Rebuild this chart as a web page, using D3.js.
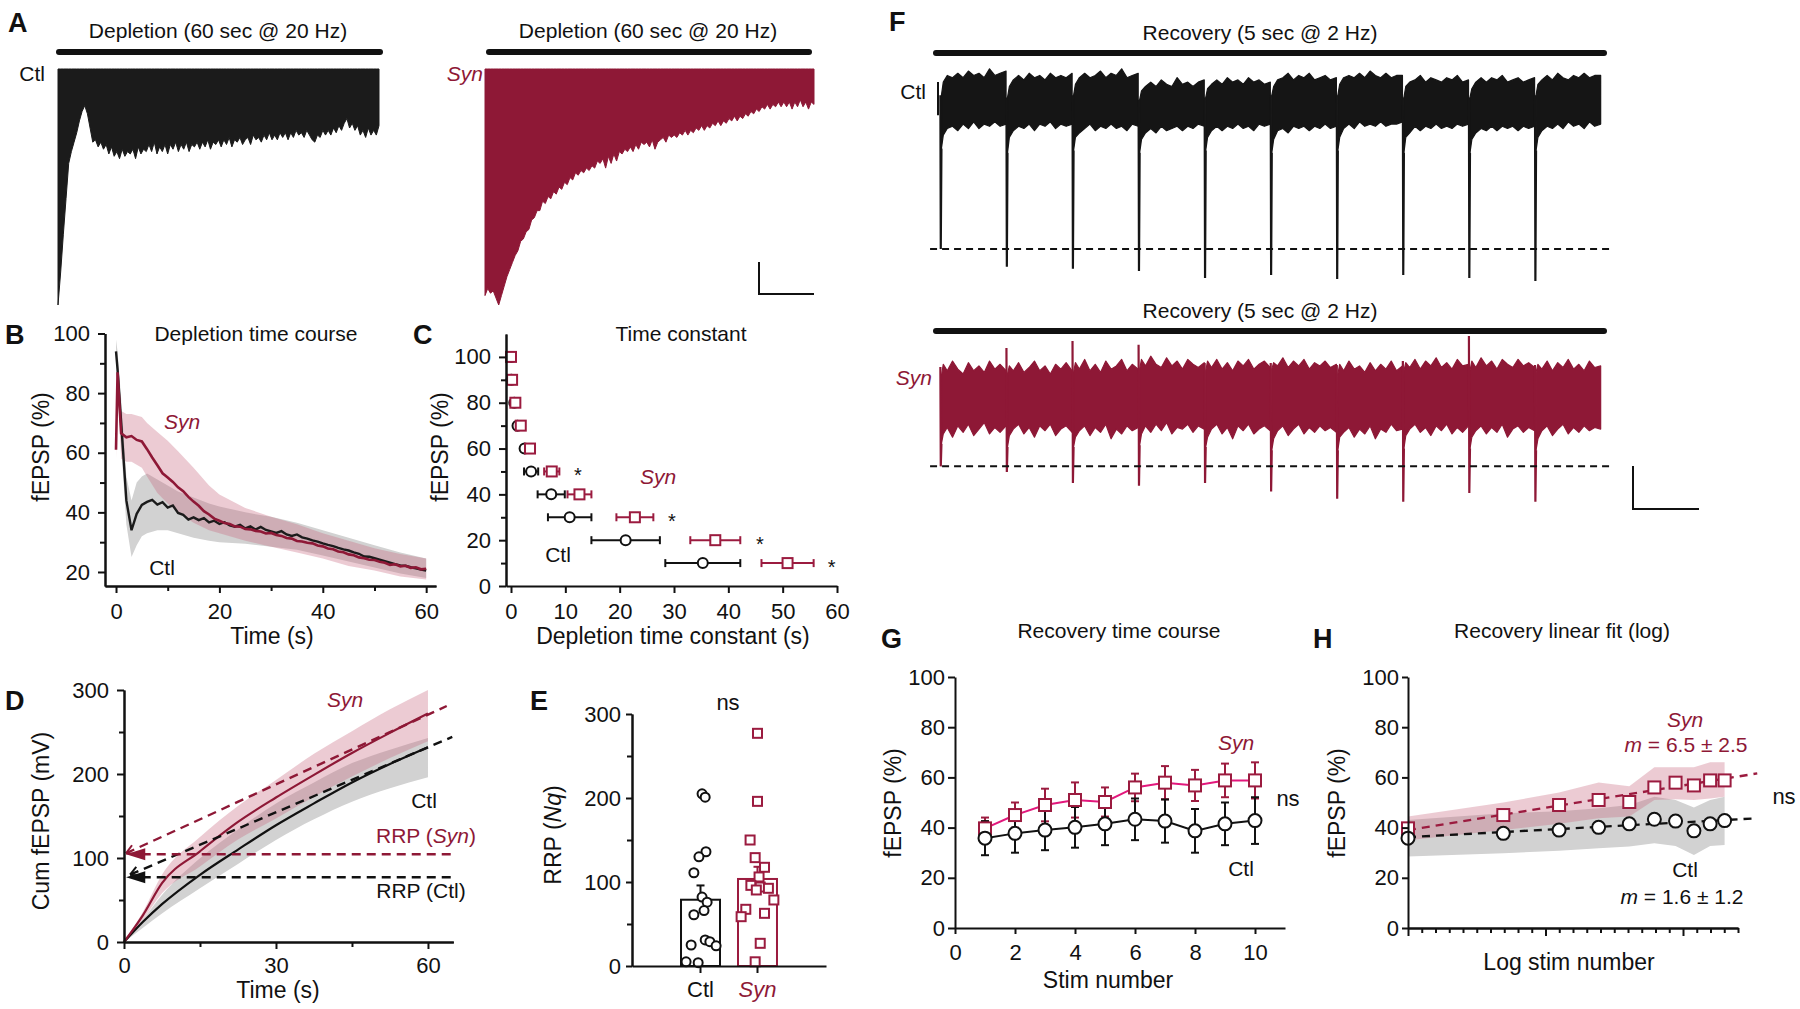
<!DOCTYPE html>
<html>
<head>
<meta charset="utf-8">
<script src="https://cdn.jsdelivr.net/npm/d3@7"></script>
<style>
  body { margin: 0; background: #fff; }
  svg text { font-family: "Liberation Sans", Arial, sans-serif; }
</style>
</head>
<body>
<div id="chart"></div>
<script>
// ---------------- data ----------------

// A: lower envelope of the 20 Hz depletion trains, fraction of max depth, one value per 0.5 s (0..60 s)
let aCtlDepth = [1.00,0.86,0.70,0.55,0.40,0.35,0.31,0.27,0.22,0.18,0.155,0.19,0.25,0.31,0.30,0.33,0.31,0.34,0.32,0.36,
  0.33,0.37,0.35,0.38,0.34,0.37,0.35,0.36,0.34,0.38,0.33,0.36,0.34,0.35,0.32,0.35,0.31,0.36,0.33,0.35,
  0.32,0.36,0.32,0.34,0.31,0.35,0.32,0.34,0.31,0.35,0.32,0.33,0.31,0.34,0.31,0.33,0.30,0.34,0.31,0.32,
  0.30,0.33,0.30,0.32,0.29,0.33,0.30,0.31,0.29,0.32,0.30,0.29,0.32,0.28,0.30,0.29,0.31,0.28,0.30,0.27,
  0.30,0.28,0.30,0.27,0.29,0.27,0.30,0.27,0.29,0.26,0.28,0.27,0.29,0.26,0.28,0.30,0.31,0.28,0.29,0.26,
  0.28,0.26,0.28,0.25,0.27,0.24,0.26,0.23,0.21,0.25,0.23,0.26,0.24,0.28,0.26,0.29,0.25,0.28,0.26,0.28,0.24];
let aSynDepth = [0.96,0.93,0.95,0.94,0.97,1.00,0.96,0.92,0.88,0.85,0.82,0.79,0.77,0.73,0.72,0.69,0.68,0.64,0.63,0.60,
  0.60,0.56,0.57,0.54,0.55,0.52,0.53,0.50,0.51,0.48,0.49,0.46,0.47,0.44,0.45,0.43,0.44,0.42,0.43,0.41,
  0.42,0.39,0.40,0.38,0.42,0.37,0.40,0.36,0.39,0.35,0.36,0.34,0.35,0.33,0.35,0.32,0.34,0.31,0.32,0.31,
  0.33,0.30,0.34,0.31,0.30,0.29,0.31,0.28,0.29,0.28,0.29,0.27,0.28,0.26,0.28,0.26,0.27,0.25,0.26,0.24,
  0.26,0.24,0.25,0.23,0.24,0.22,0.24,0.22,0.23,0.21,0.22,0.20,0.22,0.20,0.21,0.19,0.20,0.18,0.19,0.17,
  0.18,0.16,0.17,0.15,0.17,0.15,0.16,0.14,0.16,0.14,0.16,0.14,0.17,0.14,0.16,0.13,0.16,0.14,0.17,0.14,0.15];

// B: depletion time course (fEPSP %)
let bTime = [0,0.3,1,2,3,4,5,6,7,8,9,10,11,12,13,14,15,16,17,18,19,20,21,22,23,24,25,26,27,28,29,30,
  31,32,33,34,35,36,37,38,39,40,41,42,43,44,45,46,47,48,49,50,51,52,53,54,55,56,57,58,59,60];
let bCtl = [94,88,70,44,34,39.5,42.5,43.5,44.2,42.6,43.4,41.6,42.3,39.8,39.2,37.6,38.3,37.4,38.1,36.6,37.2,36.1,
  36.7,35.6,35.2,35.8,34.6,35.3,34.2,35.1,34.1,33.6,33.1,33.7,32.6,32.1,32.6,31.6,31.2,30.6,30.2,29.6,
  29.1,28.7,28.1,27.6,27.2,26.6,26.1,25.2,25.1,24.6,24.1,23.6,23.1,22.6,22.2,22.1,21.6,21.2,20.8,20.5];
let bSyn = [61,87,66.5,65.2,65.6,64.3,63.8,61.2,58.4,55.8,53.1,51.7,50.2,48.4,47.1,45.2,43.6,42.2,40.4,39.3,37.9,
  37.2,36.4,36.1,35.3,35.2,34.4,34.3,33.8,33.6,32.9,33.1,32.4,32.1,31.4,31.2,30.4,30.2,29.8,29.6,28.9,
  28.6,27.9,27.6,26.9,26.6,25.9,25.6,24.9,24.6,24.1,24.0,23.4,23.1,22.4,22.6,21.9,22.1,21.4,21.6,20.9,21.1];
let bBandTime = [0,0.3,1,2,3,4,5,6,8,10,12,15,18,20,25,30,35,40,45,50,55,60];
let bSynHi = [63,91,74,73,73,72.5,72,70,67,64,60.5,55,49,46,41.5,38.5,36,33,30.5,28,26,24.5];
let bSynLo = [58,82,58,57,57,56,55,52,46.5,43,40,36.5,34,33,30.5,28.5,26.5,24.5,22,20.5,18.5,17.5];
let bCtlHi = [98,94,78,52,44,50,52,53,51,49,47,45,43,42,40,38.5,36.5,34,31.5,29,26.5,24.5];
let bCtlLo = [90,82,62,36,25,29,32,33,34,34,33,31.5,30.5,30,29.5,28.5,27.5,25.5,23.5,21.5,19.5,18];

// C: depletion time constant (s) at each fEPSP level
let cLevel = [100,90,80,70,60,50,40,30,20,10];
let cCtl = [0,0.1,0.6,1.2,2.5,3.7,7.4,10.8,21.1,35.3];
let cCtlErr = [0,0.2,0.3,0.4,0.5,1.3,2.5,4.0,6.3,6.9];
let cSyn = [0,0.2,0.8,1.8,3.5,7.5,12.6,22.8,37.6,50.9];
let cSynErr = [0,0.5,0.6,0.7,0.8,1.4,2.2,3.4,4.6,4.8];
let cStarX = [12.3,29.6,45.8,59.0];
let cStarY = [50,30,20,10];

// D: cumulative fEPSP (mV)
let dTime = [0,3.75,7.5,15,22.5,30,37.5,45,52.5,60];
let dCtl = [0,24,45,80,110,139,165,190,212,232];
let dCtlHi = [0,27,56,99.6,134,165,190,213,229,243];
let dCtlLo = [0,17,34,64,93,121.5,146,167,183,196];
let dSyn = [0,32,70,108,143,172,199,225,249,272];
let dSynHi = [0,36,80,125,162,193,224,251,277,300];
let dSynLo = [0,27,58,90,122,147,173,197,219,239];
let dFitSyn = [104.5, 2.77];   // intercept, slope
let dFitCtl = [77, 2.58];
let dRRP = [104.4, 77];        // Syn, Ctl

// E: RRP (Nq)
let eGroups = ["Ctl", "Syn"];
let eMean = [78.9, 103.6];
let eSem = [17, 14.5];
let eCtlPts = [205,201,136,130,111,82,76,66,61,31,29,25,24,5,4];
let eCtlJit = [0.04,0.12,0.14,-0.04,-0.17,0.04,0.17,0.09,-0.17,0.12,0.24,-0.24,0.40,-0.37,-0.06];
let eSynPts = [277,196,150,129,117.5,106,96,94,92.5,90.5,78.6,67.5,62.7,58.7,27,5];
let eSynJit = [0,0,-0.19,-0.06,0.18,0.04,-0.17,0.07,0.28,-0.03,0.42,-0.30,0.18,-0.42,0.07,-0.06];

// F: recovery traces, 10 stimuli at 2 Hz (normalised depth, per sweep samples)
let fStim = [0.02,0.52,1.02,1.52,2.02,2.52,3.02,3.52,4.02,4.52];
let fSweepT = [0.006,0.02,0.05,0.09,0.13,0.17,0.21,0.25,0.29,0.33,0.37,0.41,0.45,0.495];
let fCtlSpike = [0.855,0.936,0.945,0.955,0.986,0.973,0.991,0.973,0.986,1.0];
let fCtlTop = [
  [0.16,0.10,0.07,0.08,0.06,0.08,0.05,0.07,0.06,0.08,0.04,0.07,0.06,0.05],
  [0.17,0.12,0.09,0.07,0.09,0.06,0.08,0.07,0.09,0.06,0.08,0.07,0.08,0.06],
  [0.16,0.11,0.08,0.06,0.08,0.07,0.05,0.08,0.06,0.07,0.04,0.08,0.07,0.06],
  [0.18,0.14,0.12,0.10,0.12,0.09,0.11,0.12,0.08,0.11,0.10,0.12,0.10,0.09],
  [0.17,0.13,0.11,0.09,0.11,0.08,0.10,0.09,0.11,0.08,0.10,0.09,0.11,0.10],
  [0.16,0.12,0.09,0.08,0.06,0.09,0.07,0.08,0.06,0.09,0.08,0.07,0.09,0.08],
  [0.16,0.11,0.08,0.07,0.08,0.06,0.08,0.05,0.07,0.08,0.06,0.08,0.07,0.07],
  [0.17,0.12,0.10,0.09,0.07,0.10,0.08,0.09,0.10,0.08,0.09,0.07,0.10,0.09],
  [0.17,0.13,0.10,0.08,0.10,0.08,0.09,0.07,0.10,0.09,0.08,0.10,0.09,0.08],
  [0.16,0.11,0.09,0.07,0.09,0.06,0.08,0.09,0.07,0.08,0.06,0.08,0.07,0.07]];
let fCtlBot = [
  [0.40,0.34,0.31,0.30,0.32,0.29,0.31,0.28,0.31,0.29,0.30,0.28,0.30,0.29],
  [0.42,0.35,0.32,0.30,0.31,0.29,0.32,0.29,0.30,0.28,0.31,0.29,0.30,0.29],
  [0.41,0.35,0.33,0.31,0.29,0.32,0.30,0.31,0.29,0.31,0.30,0.32,0.29,0.30],
  [0.42,0.36,0.33,0.31,0.33,0.30,0.32,0.31,0.30,0.32,0.30,0.31,0.29,0.30],
  [0.41,0.35,0.32,0.30,0.32,0.30,0.31,0.29,0.31,0.30,0.32,0.29,0.30,0.29],
  [0.42,0.36,0.32,0.31,0.33,0.30,0.31,0.30,0.32,0.30,0.31,0.29,0.31,0.30],
  [0.41,0.35,0.31,0.29,0.31,0.28,0.30,0.29,0.30,0.28,0.30,0.29,0.29,0.28],
  [0.42,0.35,0.33,0.30,0.32,0.30,0.31,0.29,0.31,0.30,0.31,0.29,0.30,0.29],
  [0.42,0.36,0.33,0.31,0.32,0.30,0.32,0.30,0.31,0.30,0.32,0.30,0.31,0.30],
  [0.41,0.35,0.32,0.30,0.31,0.29,0.31,0.28,0.30,0.29,0.31,0.28,0.30,0.29]];
let fSynSpike = [0.78,0.815,0.883,0.90,0.883,0.935,0.98,0.998,0.944,0.998];
let fSynUp = [0.167,0.05,0.006,0.03,0.142,0.142,0.154,0.13,-0.025,0.154];
let fSynTop = [
  [0.22,0.15,0.19,0.13,0.18,0.21,0.14,0.19,0.16,0.20,0.13,0.18,0.15,0.19],
  [0.21,0.16,0.19,0.14,0.20,0.17,0.13,0.19,0.16,0.21,0.15,0.18,0.14,0.19],
  [0.20,0.14,0.18,0.12,0.19,0.15,0.20,0.13,0.18,0.16,0.12,0.19,0.15,0.18],
  [0.18,0.12,0.16,0.10,0.15,0.17,0.11,0.16,0.13,0.18,0.12,0.15,0.17,0.14],
  [0.19,0.13,0.17,0.12,0.18,0.14,0.19,0.13,0.16,0.12,0.18,0.15,0.13,0.17],
  [0.18,0.14,0.16,0.11,0.17,0.13,0.16,0.12,0.18,0.14,0.16,0.13,0.17,0.15],
  [0.21,0.15,0.19,0.13,0.18,0.16,0.20,0.14,0.19,0.15,0.18,0.13,0.19,0.16],
  [0.19,0.14,0.17,0.12,0.18,0.13,0.16,0.11,0.17,0.14,0.18,0.12,0.16,0.15],
  [0.19,0.13,0.17,0.11,0.16,0.13,0.18,0.12,0.15,0.17,0.12,0.16,0.14,0.17],
  [0.20,0.15,0.18,0.13,0.19,0.14,0.17,0.12,0.18,0.15,0.19,0.13,0.17,0.16]];
let fSynBot = [
  [0.64,0.58,0.54,0.60,0.53,0.57,0.52,0.59,0.55,0.51,0.58,0.54,0.57,0.53],
  [0.66,0.59,0.55,0.52,0.58,0.54,0.60,0.53,0.56,0.52,0.59,0.55,0.53,0.57],
  [0.66,0.60,0.56,0.53,0.59,0.54,0.57,0.52,0.61,0.55,0.58,0.53,0.56,0.54],
  [0.65,0.58,0.53,0.57,0.52,0.56,0.51,0.58,0.54,0.55,0.52,0.57,0.53,0.55],
  [0.66,0.60,0.55,0.52,0.58,0.54,0.61,0.53,0.56,0.52,0.58,0.55,0.53,0.56],
  [0.68,0.61,0.56,0.53,0.59,0.55,0.52,0.58,0.54,0.57,0.53,0.56,0.54,0.57],
  [0.68,0.60,0.57,0.54,0.60,0.55,0.58,0.53,0.61,0.55,0.57,0.52,0.56,0.55],
  [0.67,0.59,0.55,0.52,0.57,0.54,0.59,0.53,0.56,0.52,0.58,0.54,0.57,0.53],
  [0.67,0.60,0.56,0.53,0.58,0.54,0.57,0.52,0.60,0.55,0.53,0.57,0.54,0.56],
  [0.68,0.61,0.56,0.53,0.59,0.55,0.52,0.58,0.54,0.57,0.53,0.56,0.54,0.55]];

// G / H: recovery (fEPSP %) per stimulus
let stimNum = [1,2,3,4,5,6,7,8,9,10];
let gSyn = [39.7,45,49,51,50.2,56,57.9,56.8,58.8,58.8];
let gSynErr = [4.3,5,6.5,7,5.8,5.5,6.6,6.2,6.7,7.2];
let gCtl = [35.8,37.7,39,40.1,41.5,43.3,42.6,38.7,41.5,42.8];
let gCtlErr = [6.8,7.7,8,8.1,8.5,8.3,8.6,8.7,8.5,9.3];
let hSynHi = [44.4,50,54,58,56.5,64,64,64,66,66];
let hSynLo = [35,39,41.5,43.7,44.4,51,51.3,51,51.6,52.3];
let hCtlHi = [43,45.7,46.5,47.7,49,52.3,51,48,51,52.3];
let hCtlLo = [28.5,29.8,30.8,31.8,32.5,33.8,32.7,29.1,32.7,33.1];
let hFitSyn = [39, 8.9];    // intercept, slope on ln(stim)
let hFitCtl = [36.2, 2.95];
let hFitEnd = 2.54;

// ---------------- drawing ----------------
const RED = "#8e1836", SQ = "#9b1b3f", PINKLINE = "#e3177c", INK = "#111";
const FONT = '"Liberation Sans", Arial, sans-serif';

let svg = d3.select("#chart").append("svg").attr("width", 1800).attr("height", 1009);
svg.append("rect").attr("width", 1800).attr("height", 1009).attr("fill", "#fff");

function label(x, y, parts, o) {
  o = o || {};
  let t = svg.append("text").attr("x", x).attr("y", y)
    .attr("font-size", o.size || 21).attr("text-anchor", o.anchor || "middle")
    .attr("fill", o.color || INK);
  if (o.bold) t.attr("font-weight", "bold");
  if (typeof parts === "string") parts = [{s: parts, i: o.italic}];
  parts.forEach(p => t.append("tspan").attr("font-style", p.i ? "italic" : null)
    .attr("fill", p.c || null).text(p.s));
  return t;
}
function ylabel(x, y, parts) {
  let t = svg.append("text").attr("transform", `translate(${x},${y}) rotate(-90)`)
    .attr("text-anchor", "middle").attr("font-size", 23).attr("dy", "0.35em").attr("fill", INK);
  parts.forEach(p => t.append("tspan").attr("font-style", p.i ? "italic" : null).text(p.s));
}
function styleAxis(g) {
  g.attr("font-family", FONT);
  g.selectAll(".domain").attr("stroke", INK).attr("stroke-width", 2);
  g.selectAll(".tick line").attr("stroke", INK).attr("stroke-width", 2);
  g.selectAll(".tick text").attr("font-size", 22).attr("fill", INK);
}
function axisL(scale, x, major, minor, pad, size) {
  let g = svg.append("g").attr("transform", `translate(${x},0)`);
  if (minor) g.append("g").call(d3.axisLeft(scale).tickValues(minor).tickSize(5).tickSizeOuter(0).tickFormat(""));
  g.append("g").call(d3.axisLeft(scale).tickValues(major).tickSize(size || 7).tickPadding(pad).tickSizeOuter(0));
  styleAxis(g);
  return g;
}
function axisB(scale, y, major, minor, pad, size) {
  let g = svg.append("g").attr("transform", `translate(0,${y})`);
  if (minor) g.append("g").call(d3.axisBottom(scale).tickValues(minor).tickSize(5).tickSizeOuter(0).tickFormat(""));
  g.append("g").call(d3.axisBottom(scale).tickValues(major).tickSize(size || 7).tickPadding(pad).tickSizeOuter(0));
  styleAxis(g);
  return g;
}
function circles(data, xf, yf, r, color) {
  svg.append("g").selectAll("circle").data(data).join("circle")
    .attr("cx", xf).attr("cy", yf).attr("r", r)
    .attr("fill", "#fff").attr("stroke", color || INK).attr("stroke-width", 2);
}
function squares(data, xf, yf, s, color) {
  svg.append("g").selectAll("rect").data(data).join("rect")
    .attr("x", (d, i) => xf(d, i) - s / 2).attr("y", (d, i) => yf(d, i) - s / 2)
    .attr("width", s).attr("height", s)
    .attr("fill", "#fff").attr("stroke", color).attr("stroke-width", 2);
}

// panel letters
[["A",8,32],["B",5,344],["C",413,344],["D",5,710],["E",530,710],["F",889,31],["G",881,648],["H",1313,648]]
  .forEach(p => label(p[1], p[2], p[0], {size: 27, bold: true, anchor: "start"}));

// ---- A ----
let aXc = d3.scaleLinear().domain([0, 60]).range([58, 379]);
let aXs = d3.scaleLinear().domain([0, 60]).range([485, 814]);
let aY = d3.scaleLinear().domain([0, 1]).range([69, 305]);
label(218, 38, "Depletion (60 sec @ 20 Hz)");
label(648, 38, "Depletion (60 sec @ 20 Hz)");
svg.append("line").attr("x1", 59).attr("x2", 380).attr("y1", 52).attr("y2", 52)
  .attr("stroke", INK).attr("stroke-width", 6).attr("stroke-linecap", "round");
svg.append("line").attr("x1", 489).attr("x2", 809).attr("y1", 52).attr("y2", 52)
  .attr("stroke", INK).attr("stroke-width", 6).attr("stroke-linecap", "round");
label(45, 81, "Ctl", {anchor: "end"});
label(483, 81, "Syn", {anchor: "end", italic: true, color: RED});
svg.append("path").datum(aCtlDepth)
  .attr("d", d3.area().x((d, i) => aXc(i * 0.5)).y0(aY(0)).y1(d => aY(d)))
  .attr("fill", "#1b1b1b").attr("stroke", "#1b1b1b").attr("stroke-width", 1);
svg.append("path").datum(aSynDepth)
  .attr("d", d3.area().x((d, i) => aXs(i * 0.5)).y0(aY(0)).y1(d => aY(d)))
  .attr("fill", RED).attr("stroke", RED).attr("stroke-width", 1);
svg.append("path").attr("d", "M759,262V294H814").attr("fill", "none").attr("stroke", INK).attr("stroke-width", 2);

// ---- B ----
let bX = d3.scaleLinear().domain([-2.13, 61.9]).range([105, 436]);
let bY = d3.scaleLinear().domain([15.3, 100]).range([586, 333.5]);
let bandB = (hi, lo) => d3.area().x((d, i) => bX(bBandTime[i])).y0((d, i) => bY(lo[i])).y1((d, i) => bY(hi[i]));
svg.append("path").datum(bBandTime).attr("d", bandB(bCtlHi, bCtlLo)).attr("fill", "#d2d2d2");
svg.append("path").datum(bBandTime).attr("d", bandB(bSynHi, bSynLo)).attr("fill", "#c96a82").attr("opacity", 0.35);
let lineB = d3.line().x((d, i) => bX(bTime[i])).y(d => bY(d));
svg.append("path").datum(bCtl).attr("d", lineB).attr("fill", "none").attr("stroke", "#1b1b1b").attr("stroke-width", 2.4);
svg.append("path").datum(bSyn).attr("d", lineB).attr("fill", "none").attr("stroke", RED).attr("stroke-width", 2.6);
axisL(bY, 105, [20, 40, 60, 80, 100], [30, 50, 70, 90], 8);
axisB(bX, 586, [0, 20, 40, 60], [10, 30, 50], 10);
label(256, 341, "Depletion time course");
ylabel(41, 447, [{s: "fEPSP (%)"}]);
label(272, 644, "Time (s)", {size: 23});
label(182, 429, "Syn", {italic: true, color: RED});
label(162, 575, "Ctl");

// ---- C ----
let cX = d3.scaleLinear().domain([-0.92, 60]).range([506, 837]);
let cY = d3.scaleLinear().domain([0, 110]).range([586, 334]);
function errH(vals, errs, color) {
  let g = svg.append("g").attr("stroke", color).attr("stroke-width", 2);
  vals.forEach((v, i) => {
    if (!errs[i]) return;
    let y = cY(cLevel[i]), x0 = cX(v - errs[i]), x1 = cX(v + errs[i]);
    g.append("line").attr("x1", x0).attr("x2", x1).attr("y1", y).attr("y2", y);
    g.append("line").attr("x1", x0).attr("x2", x0).attr("y1", y - 4).attr("y2", y + 4);
    g.append("line").attr("x1", x1).attr("x2", x1).attr("y1", y - 4).attr("y2", y + 4);
  });
}
errH(cCtl, cCtlErr, INK);
circles(cCtl, d => cX(d), (d, i) => cY(cLevel[i]), 5, INK);
errH(cSyn, cSynErr, SQ);
squares(cSyn, d => cX(d), (d, i) => cY(cLevel[i]), 10, SQ);
cStarX.forEach((v, i) => label(cX(v), cY(cStarY[i]) + 11, "*", {size: 20}));
axisL(cY, 506, [0, 20, 40, 60, 80, 100], [10, 30, 50, 70, 90], 8);
axisB(cX, 586, [0, 10, 20, 30, 40, 50, 60], null, 10);
label(681, 341, "Time constant");
ylabel(440, 447, [{s: "fEPSP (%)"}]);
label(673, 644, "Depletion time constant (s)", {size: 23});
label(658, 484, "Syn", {italic: true, color: RED});
label(558, 562, "Ctl");

// ---- D ----
let dX = d3.scaleLinear().domain([0, 65]).range([124, 453.3]);
let dY = d3.scaleLinear().domain([0, 300]).range([942, 690]);
let bandD = (hi, lo) => d3.area().curve(d3.curveMonotoneX).x((d, i) => dX(dTime[i])).y0((d, i) => dY(lo[i])).y1((d, i) => dY(hi[i]));
let lineD = d3.line().curve(d3.curveMonotoneX).x((d, i) => dX(dTime[i])).y(d => dY(d));
svg.append("path").datum(dTime).attr("d", bandD(dCtlHi, dCtlLo)).attr("fill", "#d2d2d2");
svg.append("path").datum(dTime).attr("d", bandD(dSynHi, dSynLo)).attr("fill", "#c96a82").attr("opacity", 0.35);
svg.append("path").datum(dCtl).attr("d", lineD).attr("fill", "none").attr("stroke", INK).attr("stroke-width", 2.2);
svg.append("path").datum(dSyn).attr("d", lineD).attr("fill", "none").attr("stroke", RED).attr("stroke-width", 2.2);
function fitD(fit, t0, t1, color) {
  let p0 = [dX(t0), dY(fit[0] + fit[1] * t0)], p1 = [dX(t1), dY(fit[0] + fit[1] * t1)];
  svg.append("line").attr("x1", p0[0]).attr("y1", p0[1]).attr("x2", p1[0]).attr("y2", p1[1])
    .attr("stroke", color).attr("stroke-width", 2.4).attr("stroke-dasharray", "9,6");
  let len = Math.hypot(p1[0] - p0[0], p1[1] - p0[1]);
  let ux = (p1[0] - p0[0]) / len, uy = (p1[1] - p0[1]) / len;
  [0.5, -0.5].forEach(a => {
    let c = Math.cos(a), s = Math.sin(a);
    svg.append("line").attr("x1", p0[0]).attr("y1", p0[1])
      .attr("x2", p0[0] + 10 * (ux * c - uy * s)).attr("y2", p0[1] + 10 * (ux * s + uy * c))
      .attr("stroke", color).attr("stroke-width", 2);
  });
}
function rrpD(v, color) {
  svg.append("line").attr("x1", dX(3.5)).attr("x2", dX(65)).attr("y1", dY(v)).attr("y2", dY(v))
    .attr("stroke", color).attr("stroke-width", 2.4).attr("stroke-dasharray", "9,6");
  let tip = dX(0.4), base = dX(4.2), y = dY(v);
  svg.append("path").attr("d", `M${tip},${y}L${base},${y - 6}L${base},${y + 6}Z`).attr("fill", color);
}
fitD(dFitSyn, 0.4, 63.7, RED);
fitD(dFitCtl, 1.2, 64.8, INK);
rrpD(dRRP[0], RED);
rrpD(dRRP[1], INK);
axisL(dY, 124, [0, 100, 200, 300], [50, 150, 250], 8);
axisB(dX, 942, [0, 30, 60], [15, 45], 8);
ylabel(41, 821, [{s: "Cum fEPSP (mV)"}]);
label(278, 998, "Time (s)", {size: 23});
label(345, 707, "Syn", {italic: true, color: RED});
label(424, 808, "Ctl");
label(426, 843, [{s: "RRP ("}, {s: "Syn", i: true}, {s: ")"}], {color: RED});
label(421, 898, "RRP (Ctl)");

// ---- E ----
let eX = d3.scaleBand().domain(eGroups).range([632, 826]).paddingInner(0.316).paddingOuter(0.86);
let eY = d3.scaleLinear().domain([0, 300]).range([966, 714]);
let bw = eX.bandwidth();
eGroups.forEach((g, i) => {
  let col = i ? SQ : INK, cx = eX(g) + bw / 2;
  svg.append("rect").attr("x", eX(g)).attr("y", eY(eMean[i])).attr("width", bw)
    .attr("height", eY(0) - eY(eMean[i])).attr("fill", "#fff").attr("stroke", col).attr("stroke-width", 2);
  svg.append("line").attr("x1", cx).attr("x2", cx).attr("y1", eY(eMean[i])).attr("y2", eY(eMean[i] + eSem[i]))
    .attr("stroke", col).attr("stroke-width", 2);
  svg.append("line").attr("x1", cx - 4).attr("x2", cx + 4).attr("y1", eY(eMean[i] + eSem[i])).attr("y2", eY(eMean[i] + eSem[i]))
    .attr("stroke", col).attr("stroke-width", 2);
});
circles(eCtlPts, (d, i) => eX("Ctl") + bw / 2 + eCtlJit[i] * bw, d => eY(d), 4.5, INK);
squares(eSynPts, (d, i) => eX("Syn") + bw / 2 + eSynJit[i] * bw, d => eY(d), 9, SQ);
axisL(eY, 632, [0, 100, 200, 300], [50, 150, 250], 5, 6);
let eAx = axisB(eX, 966, eGroups, null, 8, 0);
eAx.selectAll(".tick text").filter(d => d === "Syn").attr("font-style", "italic").attr("fill", RED);
ylabel(553, 835, [{s: "RRP ("}, {s: "Nq", i: true}, {s: ")"}]);
label(728, 710, "ns", {size: 22});

// ---- F ----
let fX = d3.scaleLinear().domain([0, 5.01]).range([938, 1600]);
let fYc = d3.scaleLinear().domain([0, 1]).range([60, 281]);
let fYs = d3.scaleLinear().domain([0, 1]).range([340, 502]);
label(1260, 40, "Recovery (5 sec @ 2 Hz)");
label(1260, 318, "Recovery (5 sec @ 2 Hz)");
[53, 331].forEach(y => svg.append("line").attr("x1", 936).attr("x2", 1604).attr("y1", y).attr("y2", y)
  .attr("stroke", INK).attr("stroke-width", 6).attr("stroke-linecap", "round"));
label(926, 99, "Ctl", {anchor: "end"});
label(932, 385, "Syn", {anchor: "end", italic: true, color: RED});
function sweeps(top, bot, down, up, yS, color) {
  fStim.forEach((s, i) => {
    let band = d3.area()
      .x(t => fX(s + t))
      .y0((t, j) => yS(bot[i][j]))
      .y1((t, j) => yS(top[i][j]));
    svg.append("path").datum(fSweepT).attr("d", band).attr("fill", color)
      .attr("stroke", color).attr("stroke-width", 1.2).attr("stroke-linejoin", "round");
    let sp = [[fX(s - 0.002), yS(up ? up[i] : top[i][0])], [fX(s + 0.001), yS(down[i])], [fX(s + 0.006), yS(bot[i][0])]];
    svg.append("path").attr("d", d3.line()(sp)).attr("fill", "none").attr("stroke", color).attr("stroke-width", 2.2);
  });
}
svg.append("line").attr("x1", fX(0)).attr("x2", fX(0)).attr("y1", fYc(0.10)).attr("y2", fYc(0.25))
  .attr("stroke", INK).attr("stroke-width", 2);
sweeps(fCtlTop, fCtlBot, fCtlSpike, null, fYc, "#151515");
sweeps(fSynTop, fSynBot, fSynSpike, fSynUp, fYs, RED);
svg.append("line").attr("x1", fX(-0.06)).attr("x2", fX(5.095)).attr("y1", fYc(fCtlSpike[0])).attr("y2", fYc(fCtlSpike[0]))
  .attr("stroke", INK).attr("stroke-width", 2).attr("stroke-dasharray", "7,5");
svg.append("line").attr("x1", fX(-0.06)).attr("x2", fX(5.095)).attr("y1", fYs(fSynSpike[0])).attr("y2", fYs(fSynSpike[0]))
  .attr("stroke", INK).attr("stroke-width", 2).attr("stroke-dasharray", "7,5");
svg.append("path").attr("d", "M1633,466V509H1699").attr("fill", "none").attr("stroke", INK).attr("stroke-width", 2);

// ---- G ----
let gX = d3.scaleLinear().domain([0, 11]).range([955, 1285]);
let gY = d3.scaleLinear().domain([0, 100]).range([928, 677]);
function errV(xf, vals, errs, color) {
  let g = svg.append("g").attr("stroke", color).attr("stroke-width", 2);
  vals.forEach((v, i) => {
    let x = xf(i), y0 = gY(v - errs[i]), y1 = gY(v + errs[i]);
    g.append("line").attr("x1", x).attr("x2", x).attr("y1", y0).attr("y2", y1);
    g.append("line").attr("x1", x - 4).attr("x2", x + 4).attr("y1", y0).attr("y2", y0);
    g.append("line").attr("x1", x - 4).attr("x2", x + 4).attr("y1", y1).attr("y2", y1);
  });
}
errV(i => gX(stimNum[i]), gSyn, gSynErr, SQ);
errV(i => gX(stimNum[i]), gCtl, gCtlErr, INK);
svg.append("path").datum(gSyn).attr("d", d3.line().x((d, i) => gX(stimNum[i])).y(d => gY(d)))
  .attr("fill", "none").attr("stroke", PINKLINE).attr("stroke-width", 2);
svg.append("path").datum(gCtl).attr("d", d3.line().x((d, i) => gX(stimNum[i])).y(d => gY(d)))
  .attr("fill", "none").attr("stroke", INK).attr("stroke-width", 2);
squares(gSyn, (d, i) => gX(stimNum[i]), d => gY(d), 12, SQ);
circles(gCtl, (d, i) => gX(stimNum[i]), d => gY(d), 6.5, INK);
axisL(gY, 955, [0, 20, 40, 60, 80, 100], null, 3, 7);
axisB(gX, 928, [0, 2, 4, 6, 8, 10], null, 10, 6);
label(1119, 638, "Recovery time course");
ylabel(893, 803, [{s: "fEPSP (%)"}]);
label(1108, 988, "Stim number", {size: 23});
label(1236, 750, "Syn", {italic: true, color: RED});
label(1288, 806, "ns", {size: 22});
label(1241, 876, "Ctl");

// ---- H ----
let hX = d3.scaleLinear().domain([0, 2.4]).range([1408, 1738]);
let hY = gY;
let lnStim = stimNum.map(Math.log);
let bandH = (hi, lo) => d3.area().x((d, i) => hX(lnStim[i])).y0((d, i) => hY(lo[i])).y1((d, i) => hY(hi[i]));
svg.append("path").datum(lnStim).attr("d", bandH(hCtlHi, hCtlLo)).attr("fill", "#d2d2d2");
svg.append("path").datum(lnStim).attr("d", bandH(hSynHi, hSynLo)).attr("fill", "#c96a82").attr("opacity", 0.35);
[[hFitSyn, SQ], [hFitCtl, INK]].forEach(f => {
  svg.append("line").attr("x1", hX(0)).attr("y1", hY(f[0][0]))
    .attr("x2", hX(hFitEnd)).attr("y2", hY(f[0][0] + f[0][1] * hFitEnd))
    .attr("stroke", f[1]).attr("stroke-width", 2.4).attr("stroke-dasharray", "8,6");
});
squares(gSyn, (d, i) => hX(lnStim[i]), d => hY(d), 12, SQ);
circles(gCtl, (d, i) => hX(lnStim[i]), d => hY(d), 6.5, INK);
axisL(hY, 1408, [0, 20, 40, 60, 80, 100], null, 3, 6);
let hMinor = [], hMajor = [0, 1, 2];
for (let k = 1; k <= 24; k++) if (k % 10) hMinor.push(k / 10);
axisB(hX, 928, hMajor, hMinor, 4, 8).selectAll(".tick text").remove();
label(1562, 638, "Recovery linear fit (log)");
ylabel(1337, 803, [{s: "fEPSP (%)"}]);
label(1569, 970, "Log stim number", {size: 23});
label(1685, 727, "Syn", {italic: true, color: RED});
label(1686, 752, [{s: "m", i: true}, {s: " = 6.5 ± 2.5"}], {color: RED});
label(1784, 804, "ns", {size: 22});
label(1685, 877, "Ctl");
label(1682, 904, [{s: "m", i: true}, {s: " = 1.6 ± 1.2"}]);
</script>
</body>
</html>
